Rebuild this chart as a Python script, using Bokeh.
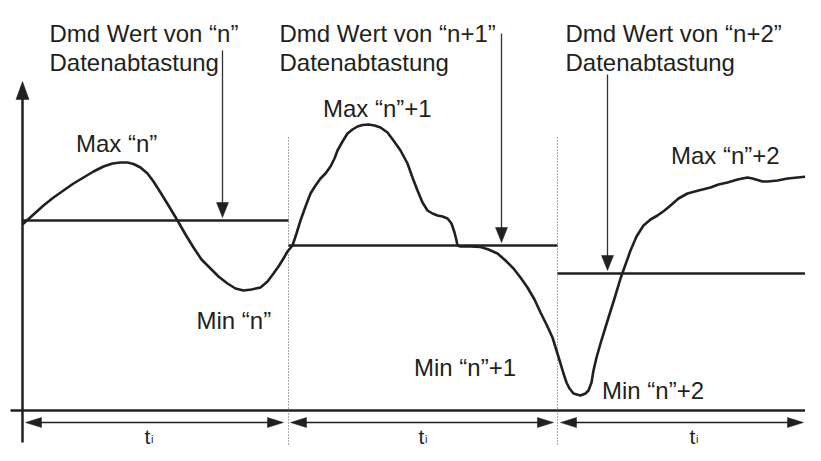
from bokeh.plotting import figure
from bokeh.models import Range1d
from bokeh.core.properties import value
from bokeh.embed import file_html
from bokeh.resources import INLINE

# ---- data (diagram coordinates, pixel-like units, y grows downward) ----
period_bounds = [22, 288, 557, 821]          # y-axis, separators, right edge
dmd_levels = [220, 245, 273]                 # "Dmd" value level per period
dmd_arrow_x = [222, 501, 607]
dmd_arrow_top = [50, 33, 74]

curve_x = [23, 33, 43, 53, 63, 73, 83, 93, 103, 112, 120, 127, 133, 140, 147, 153, 160, 168, 177,
           185, 193, 201, 210, 218, 227, 235, 243, 251, 260, 267, 273, 278, 283, 287,
           292, 296, 300, 305, 310, 315, 320, 325, 330, 334, 337, 342, 347, 352, 357, 362, 368, 374,
           380, 387, 393, 400, 407, 412, 417, 422, 427, 432, 437, 442, 447, 451, 454, 456, 457,
           460, 470, 480, 488, 497, 505, 513, 520, 527, 534, 540, 546, 552, 556,
           560, 563, 566, 569, 573, 580, 585, 588, 591, 593, 596, 600, 604, 608, 614, 620, 625, 630,
           636, 643, 650, 657, 664, 670, 678, 687, 698, 710, 718, 727, 737, 747, 752, 757, 762, 767,
           777, 787, 797, 807, 821]
curve_y = [223, 214, 205, 197, 190, 183, 177, 171, 166, 163, 162, 162, 163.5, 167, 173, 181, 192, 205, 220,
           234, 247, 259, 268, 276, 283, 288, 290, 289, 287, 281, 273, 266, 258, 251,
           245, 233, 220, 206, 193, 185, 178, 173, 166, 158, 150, 141, 133, 129, 126, 124.5, 124, 125,
           127, 132, 140, 150, 163, 177, 190, 202, 210, 213, 215, 216, 218, 223, 232, 240, 245,
           246, 246, 246.5, 249, 253, 260, 268, 277, 287, 299, 312, 324, 337, 350,
           363, 373, 382, 388, 393, 395, 393, 390, 382, 370, 357, 343, 330, 317, 298, 278, 264, 250,
           236, 225, 219, 215, 210, 205, 198, 193, 190, 187, 184, 182, 179, 177, 178, 179.5, 181, 181,
           180, 178, 177, 176, 177]

head_texts = ["Dmd Wert von \u201cn\u201d", "Dmd Wert von \u201cn+1\u201d", "Dmd Wert von \u201cn+2\u201d"]
sub_texts = ["Datenabtastung", "Datenabtastung", "Datenabtastung"]
head_x = [49, 279, 565]

extreme_texts = ["Max \u201cn\u201d", "Max \u201cn\u201d+1", "Max \u201cn\u201d+2",
                 "Min \u201cn\u201d", "Min \u201cn\u201d+1", "Min \u201cn\u201d+2"]
extreme_x = [75.5, 322.5, 670.5, 196, 413.5, 601.5]
extreme_y = [143, 108, 155, 320, 367, 390]

t_x = [144, 418, 689]

INK = "#231f20"
FONT = "Liberation Sans"

p = figure(width=805, height=445, output_backend="svg", toolbar_location=None,
           x_range=Range1d(0, 805), y_range=Range1d(445, 0), min_border=0)
p.axis.visible = False
p.grid.visible = False
p.outline_line_color = None
p.background_fill_color = "white"
p.border_fill_color = "white"


def head(tip_x, tip_y, dx, dy, length, width):
    # triangle arrowhead pointing in direction (dx, dy)
    bx, by = tip_x - dx * length, tip_y - dy * length
    px, py = -dy * width / 2, dx * width / 2
    return [tip_x, bx + px, bx - px], [tip_y, by + py, by - py]


hx, hy = [], []

# axes
p.line([10, 821], [410, 410], line_color=INK, line_width=2.5)
p.line([period_bounds[0]] * 2, [95, 442], line_color=INK, line_width=2.5)
a = head(period_bounds[0], 81, 0, -1, 18, 13)
hx.append(a[0]); hy.append(a[1])

# dotted separators
for sx in period_bounds[1:3]:
    p.line([sx, sx], [137, 452], line_color="#555555", line_width=1, line_dash="1 2")

# Dmd levels
for i, lvl in enumerate(dmd_levels):
    p.line([period_bounds[i], period_bounds[i + 1]], [lvl, lvl], line_color=INK, line_width=2.5)

# arrows from labels to levels
for i in range(3):
    tip = dmd_levels[i] - 3
    p.line([dmd_arrow_x[i]] * 2, [dmd_arrow_top[i], tip - 12], line_color="#333333", line_width=1.3)
    a = head(dmd_arrow_x[i], tip, 0, 1, 15, 12)
    hx.append(a[0]); hy.append(a[1])

# signal curve
p.line(curve_x, curve_y, line_color=INK, line_width=2.6, line_join="round", line_cap="round")

# time-interval arrows
t_y = 422
t_left = [period_bounds[0] + 3, period_bounds[1] + 2, period_bounds[2] + 3]
t_right = [period_bounds[1] - 5, period_bounds[2] - 4, 803]
for l, r in zip(t_left, t_right):
    p.line([l + 10, r - 10], [t_y, t_y], line_color=INK, line_width=1.5)
    a = head(l, t_y, -1, 0, 16, 10)
    hx.append(a[0]); hy.append(a[1])
    a = head(r, t_y, 1, 0, 16, 10)
    hx.append(a[0]); hy.append(a[1])

p.patches(hx, hy, fill_color=INK, line_color=INK, line_width=0.5)

# texts
fs = "24px"
p.text(x=head_x, y=[33] * 3, text=head_texts, text_font=value(FONT), text_font_size=fs,
       text_color=INK, text_baseline="alphabetic", text_align="left")
p.text(x=head_x, y=[62] * 3, text=sub_texts, text_font=value(FONT), text_font_size=fs,
       text_color=INK, text_baseline="alphabetic", text_align="left")
p.text(x=extreme_x, y=extreme_y, text=extreme_texts, text_font=value(FONT), text_font_size=fs,
       text_color=INK, text_baseline="alphabetic", text_align="left")
p.text(x=t_x, y=[436] * 3, text=["t"] * 3, text_font=value(FONT), text_font_size="21px",
       text_color=INK, text_baseline="alphabetic", text_align="left")
p.text(x=[v + 6.5 for v in t_x], y=[438] * 3, text=["i"] * 3, text_font=value(FONT), text_font_size="11px",
       text_color=INK, text_baseline="alphabetic", text_align="left")

open("out.html", "w").write(file_html(p, INLINE))
